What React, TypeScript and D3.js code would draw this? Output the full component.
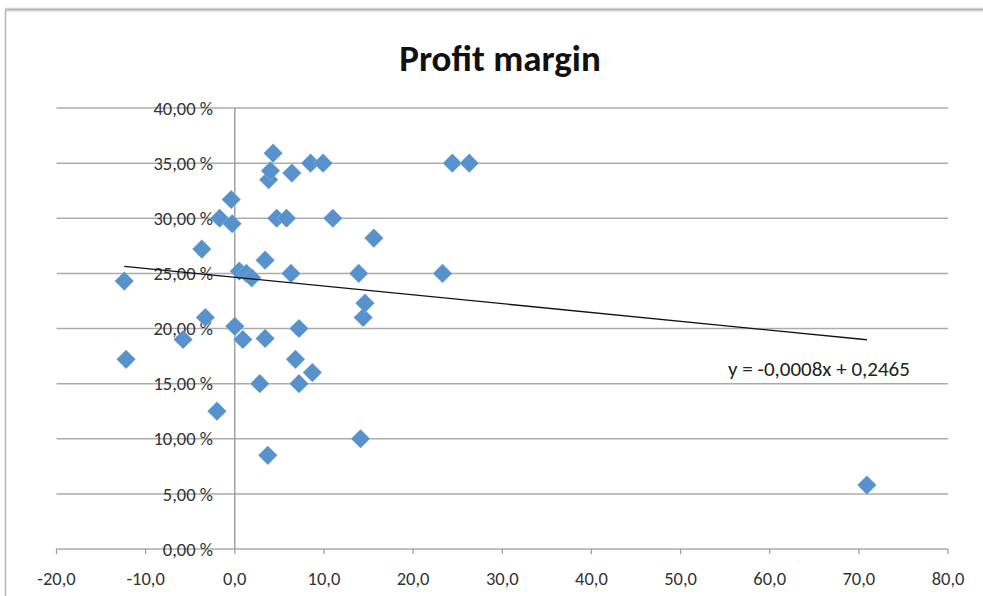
import React from "react";
import * as d3 from "d3";

// Growth (x) against profit margin (y, fraction)
const growth: number[] = [
  -12.4, -12.2, -5.8, -3.7, -3.3, -2.0, -1.7, -0.4, -0.3, 0.0, 0.5, 0.9, 1.3, 1.9,
  2.8, 3.4, 3.4, 3.7, 3.8, 4.0, 4.3, 4.7, 5.8, 6.3, 6.4, 6.8, 7.2, 7.2, 8.5, 8.7,
  9.9, 11.0, 13.9, 14.1, 14.4, 14.6, 15.6, 23.3, 24.4, 26.3, 70.9,
];
const margin: number[] = [
  0.243, 0.172, 0.19, 0.272, 0.21, 0.125, 0.3, 0.317, 0.295, 0.202, 0.252, 0.19, 0.25,
  0.246, 0.15, 0.262, 0.191, 0.085, 0.335, 0.343, 0.359, 0.3, 0.3, 0.25, 0.341, 0.172,
  0.2, 0.15, 0.35, 0.16, 0.35, 0.3, 0.25, 0.1, 0.21, 0.223, 0.282, 0.25, 0.35, 0.35,
  0.058,
];

const xTicks: number[] = [-20, -10, 0, 10, 20, 30, 40, 50, 60, 70, 80];
const yTicks: number[] = [0, 0.05, 0.1, 0.15, 0.2, 0.25, 0.3, 0.35, 0.4];

// Linear trendline coefficients
const slope = -0.0008;
const intercept = 0.2465;

const W = 983;
const H = 596;

export default function App() {
  const x = d3.scaleLinear().domain([-20, 80]).range([56.5, 948]);
  const y = d3.scaleLinear().domain([0, 0.4]).range([549, 108]);

  const fmtX = (v: number) => v.toFixed(1).replace(".", ",");
  const fmtY = (v: number) => (v * 100).toFixed(2).replace(".", ",") + " %";

  const xMin = d3.min(growth) as number;
  const xMax = d3.max(growth) as number;
  const trend = d3.line<number>()
    .x((d) => x(d))
    .y((d) => y(slope * d + intercept));

  const diamond = d3.symbol().type(d3.symbolDiamond2).size(235)() as string;

  const font = "Carlito, Lato, 'Liberation Sans', sans-serif";

  return (
    <svg
      width={W}
      height={H}
      viewBox={`0 0 ${W} ${H}`}
      style={{ position: "absolute", left: 0, top: 0, background: "#fff" }}
    >
      <defs>
        <linearGradient id="topShadow" x1="0" y1="0" x2="0" y2="1">
          <stop offset="0" stopColor="#ffffff" />
          <stop offset="0.5" stopColor="#b8b8b8" />
          <stop offset="1" stopColor="#f4f4f4" />
        </linearGradient>
      </defs>

      {/* chart frame */}
      <rect x={5} y={7} width={W} height={5} fill="url(#topShadow)" />
      <line x1={5.5} y1={10} x2={5.5} y2={H} stroke="#b4b4b4" strokeWidth={1.5} />

      {/* title */}
      <text
        x={500}
        y={71}
        textAnchor="middle"
        fontFamily={font}
        fontWeight="bold"
        fontSize={37}
        fill="#111"
      >
        Profit margin
      </text>

      {/* horizontal gridlines */}
      {yTicks.map((t) => (
        <line
          key={"g" + t}
          x1={x(-20)}
          x2={x(80)}
          y1={y(t)}
          y2={y(t)}
          stroke="#ababab"
          strokeWidth={1.5}
        />
      ))}

      {/* x axis ticks */}
      {xTicks.map((t) => (
        <line
          key={"t" + t}
          x1={x(t)}
          x2={x(t)}
          y1={y(0)}
          y2={y(0) + 5}
          stroke="#9a9a9a"
          strokeWidth={1.2}
        />
      ))}

      {/* vertical axis at x = 0 */}
      <line x1={x(0)} x2={x(0)} y1={y(0.4)} y2={y(0)} stroke="#9a9a9a" strokeWidth={1.4} />

      {/* y tick labels */}
      {yTicks.map((t) => (
        <text
          key={"yl" + t}
          x={213}
          y={y(t)}
          dy="0.36em"
          textAnchor="end"
          fontFamily={font}
          fontSize={18.5}
          fill="#333"
        >
          {fmtY(t)}
        </text>
      ))}

      {/* x tick labels */}
      {xTicks.map((t) => (
        <text
          key={"xl" + t}
          x={x(t)}
          y={585}
          textAnchor="middle"
          fontFamily={font}
          fontSize={18.5}
          fill="#333"
        >
          {fmtX(t)}
        </text>
      ))}

      {/* points */}
      {growth.map((g, i) => (
        <path
          key={"p" + i}
          d={diamond}
          transform={`translate(${x(g)},${y(margin[i])})`}
          fill="#5892cc"
          stroke="#ffffff"
          strokeOpacity={0.35}
          strokeWidth={0.5}
        />
      ))}

      {/* trendline */}
      <path d={trend([xMin, xMax]) as string} fill="none" stroke="#111" strokeWidth={1.3} />

      <text x={728} y={376} fontFamily={font} fontSize={21} fill="#222">
        y = -0,0008x + 0,2465
      </text>
    </svg>
  );
}
